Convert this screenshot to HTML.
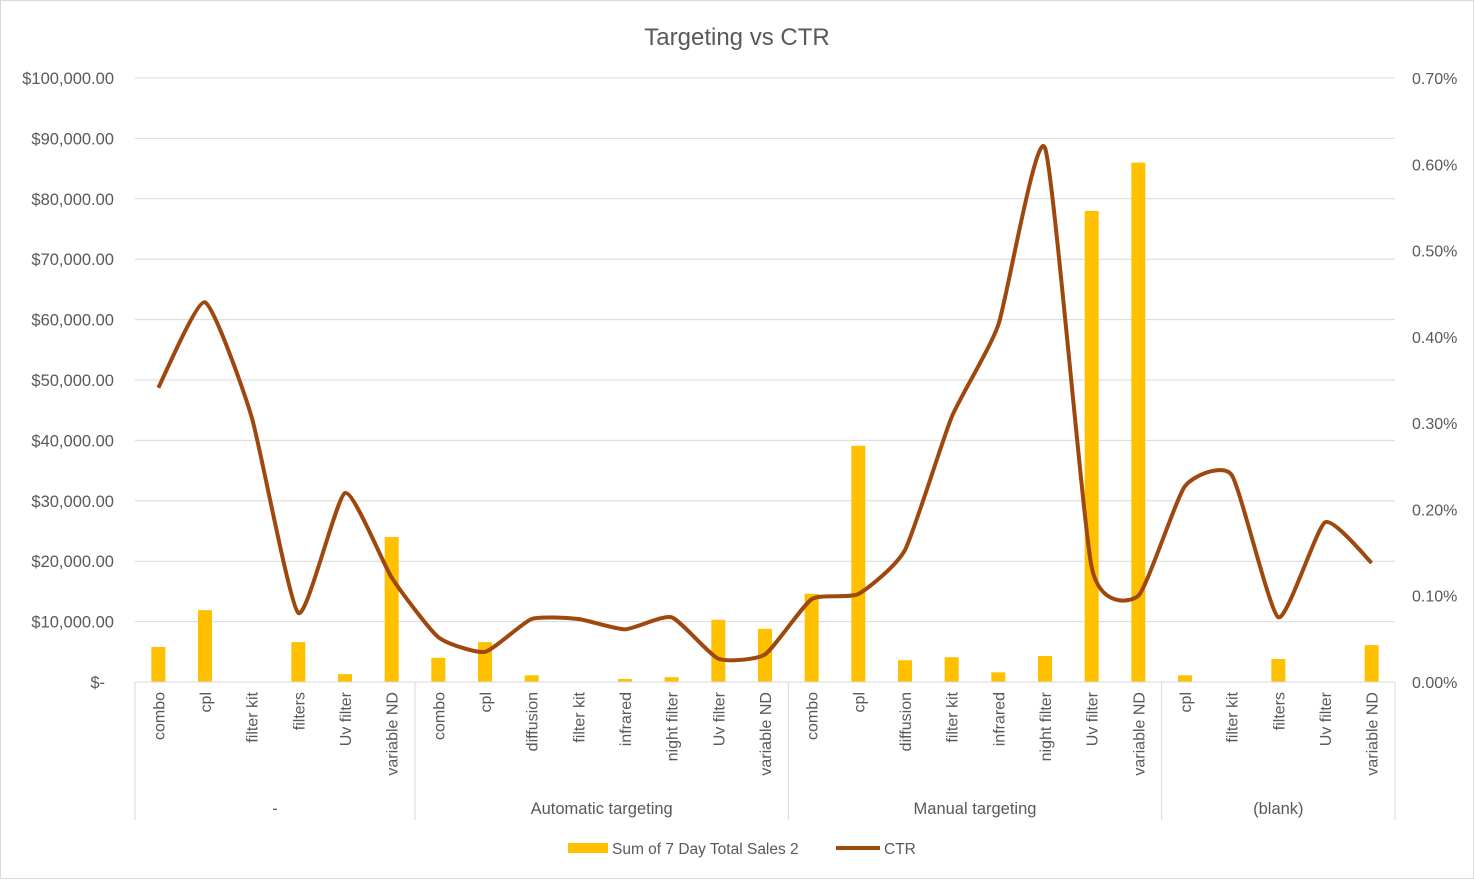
<!DOCTYPE html>
<html><head><meta charset="utf-8"><style>
body{margin:0;background:#fff;font-family:"Liberation Sans",sans-serif}
svg text{font-family:"Liberation Sans",sans-serif;fill:#595959}
</style></head><body>
<svg id="chart" width="1474" height="879">
<rect x="0.5" y="0.5" width="1473" height="878" fill="#fff" stroke="#d9d9d9"/>
<text x="737" y="45" text-anchor="middle" font-size="24">Targeting vs CTR</text>
<g id="grid"></g><g id="bars"></g><g id="line"></g><g id="axes"></g>
<g>
<rect x="568" y="843" width="40" height="10" fill="#FFC000"/>
<text x="612" y="854" font-size="15.5">Sum of 7 Day Total Sales 2</text>
<line x1="836" y1="848" x2="880" y2="848" stroke="#9E480E" stroke-width="4"/>
<text x="884" y="854" font-size="15.5">CTR</text>
</g>
</svg>
<script>
const groups=["-","Automatic targeting","Manual targeting","(blank)"];
const categories=[
["combo","cpl","filter kit","filters","Uv filter","variable ND"],
["combo","cpl","diffusion","filter kit","infrared","night filter","Uv filter","variable ND"],
["combo","cpl","diffusion","filter kit","infrared","night filter","Uv filter","variable ND"],
["cpl","filter kit","filters","Uv filter","variable ND"]];
const sales=[5800,11900,0,6600,1300,24000, 4000,6600,1100,0,500,800,10300,8800, 14600,39100,3600,4100,1600,4300,78000,86000, 1100,0,3800,0,6100];
const ctr=[0.341,0.440,0.307,0.080,0.219,0.121, 0.052,0.035,0.073,0.073,0.061,0.075,0.027,0.032, 0.096,0.102,0.153,0.307,0.414,0.619,0.133,0.100, 0.227,0.240,0.075,0.185,0.138];
const leftTicks=[0,10000,20000,30000,40000,50000,60000,70000,80000,90000,100000];
const rightTicks=[0,0.1,0.2,0.3,0.4,0.5,0.6,0.7];

const NS="http://www.w3.org/2000/svg";
const X0=135,X1=1395,Y0=682,Y1=78;
const N=sales.length, step=(X1-X0)/N;
const xc=i=>X0+step*(i+0.5);
const yL=v=>Y0-(v/100000)*(Y0-Y1);
const yR=v=>Y0-(v/0.7)*(Y0-Y1);
function mk(tag,attrs,parent,txt){const e=document.createElementNS(NS,tag);for(const k in attrs)e.setAttribute(k,attrs[k]);if(txt!==undefined)e.textContent=txt;document.getElementById(parent).appendChild(e);return e;}
const fmt=v=>v===0?"$-":"$"+v.toLocaleString("en-US",{minimumFractionDigits:2});
leftTicks.forEach(v=>{
 const y=yL(v);
 const g=mk("line",{x1:X0,x2:X1,y1:y,y2:y,stroke:"#d9d9d9","stroke-width":1},"grid");
 
 
 const t=mk("text",{x:v===0?105:114,y:y+6,"text-anchor":"end","font-size":16.5},"axes",fmt(v));
 
 
});
rightTicks.forEach(v=>{
 const t=mk("text",{x:1412,y:yR(v)+6,"font-size":16},"axes",v.toFixed(2)+"%");
 
 
});
sales.forEach((v,i)=>{
 const b=mk("rect",{x:xc(i)-7,y:yL(v),width:14,height:Y0-yL(v),fill:"#FFC000"},"bars");
 
 
});
const pts=ctr.map((v,i)=>[xc(i),yR(v)]);
let d="M"+pts[0][0]+","+pts[0][1];
for(let i=0;i<pts.length-1;i++){
 const p0=pts[Math.max(0,i-1)],p1=pts[i],p2=pts[i+1],p3=pts[Math.min(pts.length-1,i+2)];
 const t=0.09;
 d+=` C${p1[0]+(p2[0]-p0[0])*t},${p1[1]+(p2[1]-p0[1])*t} ${p2[0]-(p3[0]-p1[0])*t},${p2[1]-(p3[1]-p1[1])*t} ${p2[0]},${p2[1]}`;
}
const ln=mk("path",{d:d,fill:"none",stroke:"#9E480E","stroke-width":4,"stroke-linejoin":"round"},"line");


const ax=mk("line",{x1:X0,x2:X1,y1:Y0,y2:Y0,stroke:"#d9d9d9"},"axes");


let idx=0;
const seps=[0];
categories.forEach((cats,g)=>{
 const start=idx;
 cats.forEach(c=>{
  const x=xc(idx);
  const t=mk("text",{x:0,y:0,"text-anchor":"end","font-size":16,transform:`translate(${x+6},692) rotate(-90)`},"axes",c);
  
  
  idx++;
 });
 seps.push(idx);
 const gl=mk("text",{x:(X0+step*start+X0+step*idx)/2,y:814,"text-anchor":"middle","font-size":16.5},"axes",groups[g]);
 
 
});
seps.forEach(s=>{
 const x=X0+step*s;
 const l=mk("line",{x1:x,x2:x,y1:Y0,y2:820,stroke:"#d9d9d9"},"axes");
 
 
});
</script>
</body></html>
